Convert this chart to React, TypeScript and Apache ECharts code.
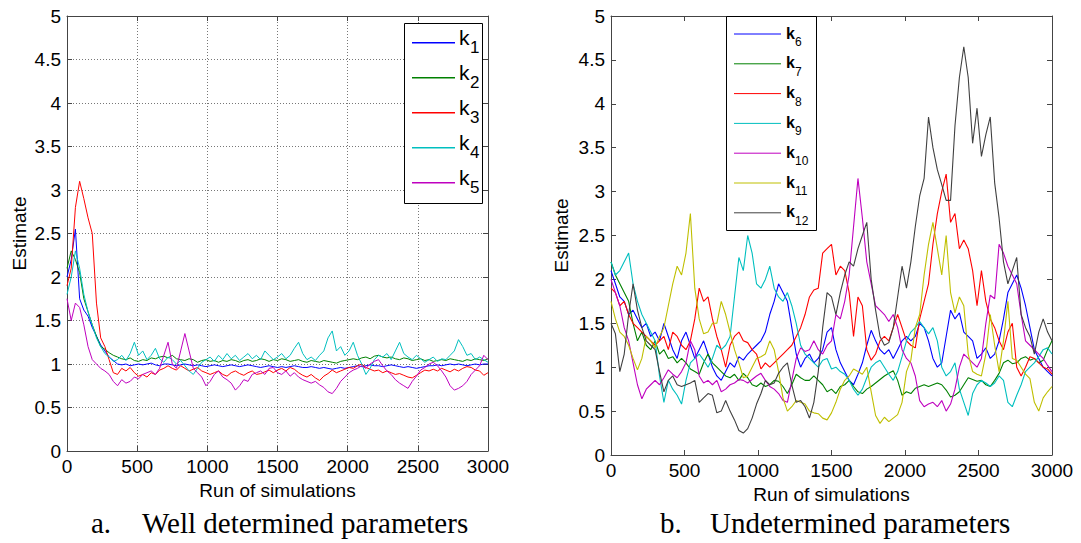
import React, { useEffect, useRef } from "react";
import * as echarts from "echarts";

// sample positions (run index) shared by every series, every 30 runs
const RUNS: number[] = Array.from({ length: 101 }, (_, i) => i * 30);

// ---- panel a: well determined parameters ----
const K1 = [
  2.0, 2.2, 2.55, 1.75, 1.62, 1.55, 1.42, 1.32, 1.22, 1.15,
  1.08, 1.04, 1.0, 0.99, 1.0, 0.98, 0.99, 1.0, 0.99, 1.0,
  1.01, 0.99, 0.98, 1.0, 1.0, 0.99, 0.98, 0.99, 1.0, 0.99,
  0.98, 0.99, 0.98, 0.97, 0.98, 0.99, 0.98, 0.97, 0.98, 0.99,
  0.98, 0.97, 0.98, 0.99, 0.98, 0.97, 0.96, 0.97, 0.98, 0.97,
  0.96, 0.97, 0.96, 0.97, 0.98, 0.97, 0.96, 0.96, 0.97, 0.96,
  0.95, 0.96, 0.95, 0.94, 0.95, 0.96, 0.95, 0.96, 0.97, 0.98,
  0.97, 0.98, 0.99, 0.98, 0.98, 0.97, 0.98, 0.99, 0.98, 0.97,
  0.96, 0.97, 0.96, 0.95, 0.96, 0.97, 0.98, 0.98, 0.99, 0.98,
  0.99, 1.0, 0.99, 1.0, 0.99, 0.98, 0.99, 1.0, 0.99, 1.0,
  1.0,
];
const K2 = [
  2.1, 2.3, 2.2, 2.05, 1.75, 1.6, 1.45, 1.32, 1.2, 1.17,
  1.13, 1.1, 1.08, 1.06, 1.05, 1.07, 1.04, 1.03, 1.05, 1.04,
  1.07, 1.06, 1.08, 1.09, 1.07, 1.1, 1.06, 1.05, 1.04, 1.06,
  1.05, 1.02, 1.04, 1.05, 1.03, 1.04, 1.02, 1.04, 1.03, 1.05,
  1.04, 1.02, 1.04, 1.05, 1.03, 1.04, 1.06, 1.05, 1.03, 1.05,
  1.04, 1.06, 1.05, 1.03, 1.04, 1.05, 1.03, 1.02, 1.04, 1.03,
  1.02, 1.04, 1.03, 1.02, 1.01, 1.03, 1.04, 1.05, 1.06, 1.05,
  1.07, 1.08, 1.06, 1.09, 1.1, 1.08, 1.07, 1.08, 1.06, 1.05,
  1.07, 1.06, 1.04, 1.05, 1.06, 1.04, 1.05, 1.03, 1.04, 1.05,
  1.04, 1.06, 1.05, 1.04, 1.03, 1.05, 1.04, 1.06, 1.05, 1.04,
  1.06,
];
const K3 = [
  1.9, 2.1, 2.8, 3.1, 2.9, 2.68, 2.5, 1.7, 1.3, 1.2,
  1.05, 0.9, 0.88, 0.95, 0.92, 0.96, 0.9, 0.86, 0.88, 0.85,
  0.9, 0.88, 0.93, 0.95, 0.98, 0.95, 0.93, 0.98, 0.95, 0.92,
  0.94, 0.96, 0.92, 0.9, 0.88, 0.9, 0.92, 0.88, 0.86, 0.9,
  0.92, 0.89, 0.87, 0.9, 0.92, 0.88, 0.89, 0.91, 0.93, 0.9,
  0.93, 0.95, 0.92, 0.96, 0.94, 0.9, 0.87, 0.85, 0.88, 0.84,
  0.81, 0.86, 0.89, 0.93, 0.9, 0.92, 0.94, 0.96, 0.95, 0.98,
  1.0, 0.96, 0.94, 0.92, 0.93, 0.9, 0.92, 0.9, 0.88, 0.89,
  0.87, 0.85, 0.84, 0.87, 0.9, 0.93, 0.92, 0.94, 0.92, 0.95,
  0.93, 0.91, 0.94, 0.92, 0.95, 0.97, 0.96, 0.93, 0.92, 0.87,
  0.9,
];
const K4 = [
  1.8, 2.0, 2.3, 2.1, 1.8, 1.6, 1.45, 1.3, 1.2, 1.12,
  1.08, 1.03, 1.05, 1.1, 1.04, 1.12, 1.25, 1.1, 1.15, 1.05,
  1.1, 1.18, 1.06, 1.02, 1.08, 1.05, 1.0, 1.04, 0.98, 0.92,
  0.88, 0.95, 1.02, 1.05, 1.08, 1.03, 1.1, 1.05, 1.12, 1.06,
  1.1, 1.04, 1.08, 1.12, 1.06, 1.1, 1.05, 1.15, 1.1, 1.05,
  1.08, 1.12, 1.06, 1.1, 1.18, 1.25, 1.12, 1.05, 1.08, 1.04,
  1.1, 1.15, 1.3, 1.38, 1.15, 1.2, 1.1, 1.15, 1.25, 1.1,
  1.0, 0.88, 0.95, 1.05, 1.1, 1.08, 1.12, 1.05, 1.15, 1.25,
  1.12, 1.08, 1.05, 1.1, 1.06, 1.02, 1.05, 1.08, 1.03, 1.06,
  1.05, 1.1, 1.15, 1.28, 1.2, 1.1, 1.12, 1.05, 1.08, 1.05,
  1.02,
];
const K5 = [
  1.75, 1.5, 1.7, 1.65, 1.45, 1.2, 1.05, 1.0, 0.95, 0.92,
  0.88, 0.8, 0.75, 0.82, 0.78, 0.8, 0.85, 0.83, 0.88, 0.9,
  0.92, 0.88, 0.95, 1.1, 1.25, 1.0, 0.95, 1.15, 1.35, 1.15,
  0.95, 0.9, 0.85, 0.75, 0.8, 0.88, 0.92, 0.85, 0.82, 0.78,
  0.7, 0.75, 0.82, 0.8, 0.88, 0.9, 0.92, 0.88, 0.95, 0.96,
  0.9, 0.88, 0.92, 0.86, 0.9, 0.85, 0.82, 0.8, 0.78, 0.8,
  0.76, 0.73, 0.68, 0.66, 0.72, 0.8, 0.85, 0.9, 0.93, 0.95,
  0.98, 0.95, 1.0, 1.03, 1.05, 0.98, 0.92, 0.88, 0.82, 0.78,
  0.75, 0.72, 0.8, 0.86, 0.93, 0.96, 1.0, 1.02, 0.98, 0.92,
  0.85, 0.75, 0.7, 0.72, 0.75, 0.8, 0.88, 0.93, 0.98, 1.1,
  1.05,
];

// ---- panel b: undetermined parameters ----
const K6 = [
  2.1, 1.95, 1.8, 1.75, 1.6, 1.65, 1.55, 1.45, 1.5, 1.35,
  1.4, 1.3, 1.5, 1.35, 1.2, 1.1, 1.3, 1.4, 1.25, 1.1,
  1.2, 1.3, 1.15, 1.0, 0.9, 0.85, 0.95, 1.05, 1.0, 1.12,
  1.08, 1.15, 1.2, 1.25, 1.3, 1.4, 1.6, 1.75, 1.95, 1.85,
  1.75, 1.45, 1.15, 1.0, 1.1, 1.15, 1.05, 1.1, 1.2, 1.4,
  1.45, 1.2, 1.05, 0.95, 0.85, 0.8, 0.92, 1.05, 1.25, 1.42,
  1.3, 1.2, 1.15, 1.2, 1.1, 1.2, 1.3, 1.35, 1.3, 1.35,
  1.5, 1.45, 1.3, 1.1, 1.0, 1.05, 1.35, 1.65, 1.55, 1.62,
  1.4, 1.35, 1.3, 1.1, 1.15, 1.22, 1.1, 1.15, 1.3, 1.55,
  1.85, 1.95, 2.05, 1.9, 1.7, 1.45, 1.2, 1.1, 1.0, 0.95,
  0.9,
];
const K7 = [
  2.2, 2.05, 1.95, 1.85, 1.75, 1.5, 1.3, 1.4, 1.25, 1.2,
  1.3, 1.15, 1.2, 1.1, 1.12, 1.05, 1.1, 1.05, 0.98, 0.95,
  0.92, 1.05, 1.15, 1.05, 1.0, 0.95, 0.9, 0.88, 0.92, 0.85,
  0.93, 0.88, 0.8, 0.78, 0.82, 0.78, 0.8, 0.85, 0.84, 0.78,
  0.7, 0.8, 0.92, 0.88, 0.85, 0.85, 0.9, 0.85, 0.8, 0.72,
  0.75, 0.7, 0.78, 0.8, 0.85, 0.78, 0.72, 0.7, 0.75, 0.78,
  0.82, 0.86, 0.9, 0.93, 0.96, 0.85, 0.68, 0.72, 0.7, 0.76,
  0.78, 0.8, 0.78, 0.8, 0.82, 0.8, 0.74, 0.66, 0.68, 0.72,
  0.8, 0.88, 0.86, 0.84, 0.85, 0.8, 0.78, 0.85, 0.93, 1.05,
  1.08, 1.04, 1.05, 1.1, 1.12, 1.08, 1.1, 1.05, 1.08, 1.2,
  1.3,
];
const K8 = [
  1.9, 1.85, 1.7, 1.75, 1.6, 1.5, 1.45, 1.4, 1.35, 1.3,
  1.25, 1.3, 1.35, 1.2, 1.4, 1.35, 1.25, 1.2, 1.3, 1.55,
  1.9, 1.75, 1.8, 1.55, 1.35, 1.2, 1.0, 1.25, 1.35, 1.4,
  1.3, 1.28, 1.2, 1.15, 0.98, 1.05, 1.0, 1.05, 1.1, 1.15,
  1.2, 1.25, 1.35, 1.45, 1.6, 1.8, 1.88, 1.9, 2.3, 2.35,
  2.4, 2.05, 2.15, 2.1, 1.85, 1.35, 1.8, 1.7, 1.2, 1.08,
  1.15, 1.3, 1.35, 1.3, 1.45, 1.6, 1.45, 1.3, 1.25, 1.22,
  1.55, 1.75, 1.95, 2.4, 2.75, 3.0, 3.2, 2.65, 2.75, 2.35,
  2.45, 2.35, 2.1, 1.7, 2.1, 1.75, 1.55, 1.45, 1.3, 1.2,
  1.4, 1.5, 1.0, 0.9, 1.0, 1.12, 1.1, 1.05, 1.0, 0.98,
  0.92,
];
const K9 = [
  2.2, 2.05, 2.1, 2.2, 2.3, 1.95, 1.75, 1.6, 1.5, 1.4,
  1.3, 0.9, 0.6, 0.85, 0.75, 0.68, 0.58, 0.85, 1.05, 1.1,
  1.15, 1.08, 1.0, 1.1, 1.25, 1.2, 1.25, 1.35, 1.8, 2.25,
  2.1, 2.5, 2.3, 1.95, 1.9, 2.0, 2.15, 1.9, 1.8, 1.75,
  1.85, 1.7, 1.5, 1.25, 1.15, 1.1, 1.05, 1.0, 1.08, 1.1,
  0.98, 1.0, 0.95, 0.92, 0.85, 0.75, 0.68, 0.75, 0.88, 1.0,
  1.05, 1.08, 1.0, 0.92, 0.85, 0.95, 1.12, 1.3, 1.4, 1.45,
  1.52, 1.45, 1.38, 1.45, 1.3, 1.0, 0.9, 0.95, 1.05, 0.75,
  0.6, 0.45, 0.7, 0.8, 0.85, 0.82, 0.78, 0.82, 0.9, 0.85,
  0.6, 0.55, 0.68, 0.8, 0.95, 1.0, 1.05, 1.12, 1.2, 1.22,
  1.15,
];
const K10 = [
  2.0, 1.85, 1.7, 1.45, 1.3, 1.05, 0.8, 0.64, 0.75, 0.8,
  0.85, 0.8, 0.88, 0.97, 0.92, 0.88, 0.95, 1.05, 1.3, 1.2,
  0.9, 0.82, 0.85, 0.8, 0.85, 0.72, 0.75, 0.8, 0.82, 0.86,
  0.85, 0.82, 0.86, 0.9, 0.93, 0.85, 0.78, 0.75, 0.7, 0.62,
  0.6, 0.85, 1.1, 1.22, 1.18, 1.2, 1.3, 1.2, 1.15, 1.25,
  1.3, 1.6, 1.55, 1.75, 2.05, 2.6, 3.15, 2.7, 2.2, 1.95,
  1.7, 1.65, 1.6, 1.52, 1.6, 1.45, 1.2, 1.1, 1.05, 0.9,
  0.62, 0.55, 0.58, 0.6, 0.55, 0.62, 0.5, 0.58, 0.75, 1.0,
  1.15, 1.1, 1.05, 1.0, 1.1, 1.5, 1.82, 1.78, 2.4, 2.3,
  2.15, 2.05, 1.95, 1.6, 1.3, 1.25, 1.2, 1.15, 1.1, 1.02,
  0.95,
];
const K11 = [
  1.75, 1.55, 1.4, 1.35, 1.25, 1.1, 0.97, 1.1, 1.35, 1.3,
  1.22, 1.35, 1.45, 1.7, 1.95, 2.15, 2.05, 2.3, 2.75, 1.9,
  1.55, 1.38, 1.4, 1.5, 1.5, 1.75, 1.6, 1.4, 1.2, 1.05,
  0.88, 0.9, 1.0, 1.1, 1.12, 1.15, 1.3, 1.2, 0.95, 0.65,
  0.5, 0.55, 0.62, 0.6, 0.58, 0.5, 0.48, 0.47, 0.42, 0.4,
  0.48, 0.6, 0.75, 0.85, 0.9, 0.98, 0.95, 0.92, 1.0, 0.72,
  0.45, 0.36, 0.43, 0.38, 0.42, 0.46, 0.6, 0.95, 1.08, 1.45,
  1.6, 2.05, 2.4, 2.65, 2.35, 2.05, 2.5, 1.85, 1.62, 1.8,
  1.7, 1.15, 0.95, 0.92, 0.9, 1.15, 1.6, 1.25, 0.95, 1.3,
  1.75, 1.1, 1.08, 1.0, 0.92, 0.87, 0.6, 0.5, 0.65, 0.72,
  0.78,
];
const K12 = [
  1.5, 1.38, 0.95, 1.15, 1.6, 1.95, 1.65, 1.45, 1.3, 1.25,
  1.2, 0.95, 0.72, 0.85, 0.9, 0.8, 0.78, 0.8, 0.82, 0.85,
  0.6, 0.65, 0.7, 0.68, 0.48, 0.5, 0.62, 0.5, 0.4, 0.28,
  0.25, 0.3, 0.42, 0.58, 0.7, 0.85, 0.8, 0.82, 0.93, 1.0,
  1.05, 0.8, 0.6, 0.62, 0.55, 0.42, 0.6, 0.95, 1.45, 1.85,
  1.8, 1.6, 1.85, 2.05, 2.2, 2.15, 2.35, 2.5, 2.65, 2.0,
  1.65, 1.35, 1.25, 1.28, 1.45, 1.8, 2.15, 1.9, 2.2, 2.6,
  2.95, 3.15, 3.85, 3.5, 3.25, 3.08, 2.9, 2.9, 3.75, 4.3,
  4.65, 4.3, 3.55, 3.95, 3.4, 3.65, 3.85, 3.1, 2.7, 2.2,
  1.95, 2.1, 2.25, 1.6, 1.45, 1.35, 1.15, 1.4, 1.55, 1.4,
  1.3,
];

const LEFT_NAMES = ["k1", "k2", "k3", "k4", "k5"];
const LEFT_SUBS = ["1", "2", "3", "4", "5"];
const LEFT_DATA = [K1, K2, K3, K4, K5];
const LEFT_COLORS = ["#0000FF", "#008000", "#FF0000", "#00BFBF", "#BF00BF"];

const RIGHT_NAMES = ["k6", "k7", "k8", "k9", "k10", "k11", "k12"];
const RIGHT_SUBS = ["6", "7", "8", "9", "10", "11", "12"];
const RIGHT_DATA = [K6, K7, K8, K9, K10, K11, K12];
const RIGHT_COLORS = ["#0000FF", "#008000", "#FF0000", "#00BFBF", "#BF00BF", "#BFBF00", "#404040"];

const X_TICKS = { min: 0, max: 3000, interval: 500 };
const Y_TICKS = { min: 0, max: 5, interval: 0.5 };

const SANS = "'Liberation Sans', Arial, Helvetica, sans-serif";
const SERIF = "'Liberation Serif', 'Times New Roman', Times, serif";
const AXIS_COLOR = "#444";

export default function App() {
  const ref = useRef<HTMLDivElement>(null);

  useEffect(() => {
    document.body.style.margin = "0";
    if (!ref.current) return;
    const chart = echarts.init(ref.current, undefined, { renderer: "svg" });

    const labelStyle = { color: "#000", fontSize: 19, fontFamily: SANS };
    const nameStyle = { color: "#000", fontSize: 19, fontFamily: SANS };

    const mkX = (gridIndex: number, pos: "bottom" | "top", grid: boolean) => ({
      type: "value",
      gridIndex,
      position: pos,
      ...X_TICKS,
      axisLine: { show: true, onZero: false, lineStyle: { color: AXIS_COLOR, width: 1 } },
      axisTick: { show: true, inside: true, length: 5, lineStyle: { color: AXIS_COLOR } },
      axisLabel:
        pos === "bottom"
          ? { ...labelStyle, margin: 6, formatter: (v: number) => String(v) }
          : { show: false },
      splitLine: grid
        ? { show: true, lineStyle: { color: "#777", type: [1, 2], width: 1 } }
        : { show: false },
      name: pos === "bottom" ? "Run of simulations" : "",
      nameLocation: "middle",
      nameGap: gridIndex === 0 ? 27 : 28,
      nameTextStyle: nameStyle,
    });
    const mkY = (gridIndex: number, pos: "left" | "right", grid: boolean) => ({
      type: "value",
      gridIndex,
      position: pos,
      ...Y_TICKS,
      axisLine: { show: true, onZero: false, lineStyle: { color: AXIS_COLOR, width: 1 } },
      axisTick: { show: true, inside: true, length: 5, lineStyle: { color: AXIS_COLOR } },
      axisLabel:
        pos === "left"
          ? { ...labelStyle, margin: 6, formatter: (v: number) => String(v) }
          : { show: false },
      splitLine: grid
        ? { show: true, lineStyle: { color: "#777", type: [1, 2], width: 1 } }
        : { show: false },
      name: pos === "left" ? "Estimate" : "",
      nameLocation: "middle",
      nameGap: gridIndex === 0 ? 38 : 40,
      nameTextStyle: nameStyle,
    });

    const series: any[] = [];
    LEFT_DATA.forEach((d, i) => {
      series.push({
        name: LEFT_NAMES[i],
        type: "line",
        xAxisIndex: 0,
        yAxisIndex: 0,
        data: RUNS.map((r, j) => [r, d[j]]),
        symbol: "none",
        lineStyle: { color: LEFT_COLORS[i], width: 1 },
        itemStyle: { color: LEFT_COLORS[i] },
        silent: true,
      });
    });
    RIGHT_DATA.forEach((d, i) => {
      series.push({
        name: RIGHT_NAMES[i],
        type: "line",
        xAxisIndex: 2,
        yAxisIndex: 2,
        data: RUNS.map((r, j) => [r, d[j]]),
        symbol: "none",
        lineStyle: { color: RIGHT_COLORS[i], width: 1.1 },
        itemStyle: { color: RIGHT_COLORS[i] },
        silent: true,
      });
    });

    const graphics: any[] = [];
    // legend a
    graphics.push({
      type: "rect",
      z: 100,
      shape: { x: 404.5, y: 23.5, width: 78, height: 180 },
      style: { fill: "#fff", stroke: "#000", lineWidth: 1 },
    });
    LEFT_NAMES.forEach((_, i) => {
      const y = 42.7 + i * 35;
      graphics.push({
        type: "line",
        z: 101,
        shape: { x1: 412, y1: y, x2: 455, y2: y },
        style: { stroke: LEFT_COLORS[i], lineWidth: 1.5 },
      });
      graphics.push({
        type: "text",
        z: 101,
        x: 459,
        y: y - 5,
        style: { text: "k", fontSize: 21, fontFamily: SANS, fill: "#000", verticalAlign: "middle", align: "left" },
      });
      graphics.push({
        type: "text",
        z: 101,
        x: 470,
        y: y + 5,
        style: { text: LEFT_SUBS[i], fontSize: 17, fontFamily: SANS, fill: "#000", verticalAlign: "middle", align: "left" },
      });
    });
    // legend b
    graphics.push({
      type: "rect",
      z: 100,
      shape: { x: 726.5, y: 16.5, width: 90, height: 214 },
      style: { fill: "#fff", stroke: "#000", lineWidth: 1 },
    });
    RIGHT_NAMES.forEach((_, i) => {
      const y = 34 + i * 29.8;
      graphics.push({
        type: "line",
        z: 101,
        shape: { x1: 734, y1: y, x2: 781, y2: y },
        style: { stroke: RIGHT_COLORS[i], lineWidth: 1 },
      });
      graphics.push({
        type: "text",
        z: 101,
        x: 786,
        y: y - 1,
        style: { text: "k", fontSize: 16, fontWeight: "bold", fontFamily: SANS, fill: "#000", verticalAlign: "middle", align: "left" },
      });
      graphics.push({
        type: "text",
        z: 101,
        x: 795,
        y: y + 8,
        style: { text: RIGHT_SUBS[i], fontSize: 12, fontFamily: SANS, fill: "#000", verticalAlign: "middle", align: "left" },
      });
    });
    // captions
    const cap = { fontSize: 29, fontFamily: SERIF, fill: "#000", verticalAlign: "middle" };
    graphics.push({ type: "text", x: 91, y: 523, style: { ...cap, text: "a." } });
    graphics.push({ type: "text", x: 142, y: 523, style: { ...cap, text: "Well determined parameters" } });
    graphics.push({ type: "text", x: 660, y: 523, style: { ...cap, text: "b." } });
    graphics.push({ type: "text", x: 710, y: 523, style: { ...cap, text: "Undetermined parameters" } });

    chart.setOption({
      animation: false,
      backgroundColor: "#fff",
      grid: [
        { left: 67, top: 16, width: 421, height: 435, containLabel: false },
        { left: 611, top: 16, width: 441, height: 439, containLabel: false },
      ],
      xAxis: [mkX(0, "bottom", true), mkX(0, "top", false), mkX(1, "bottom", false), mkX(1, "top", false)],
      yAxis: [mkY(0, "left", true), mkY(0, "right", false), mkY(1, "left", false), mkY(1, "right", false)],
      series,
      graphic: graphics,
    });

    return () => chart.dispose();
  }, []);

  return <div ref={ref} style={{ width: 1081, height: 543 }} />;
}
